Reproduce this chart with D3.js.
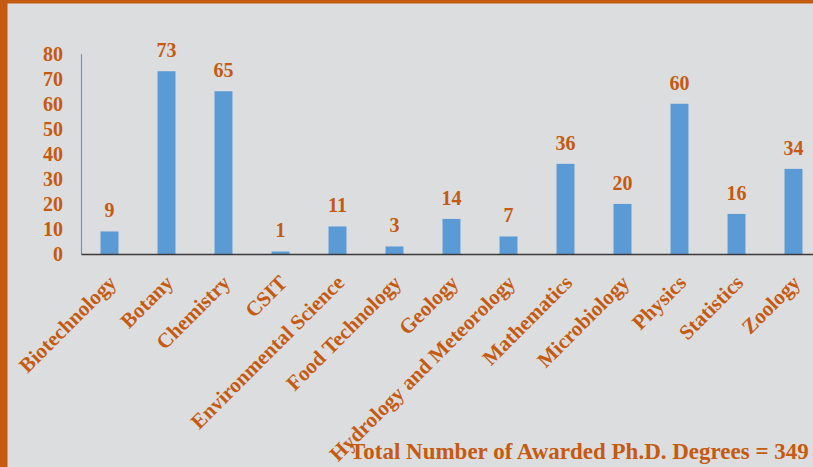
<!DOCTYPE html>
<html>
<head>
<meta charset="utf-8">
<script src="https://cdn.jsdelivr.net/npm/d3@7"></script>
<style>
  body { margin: 0; padding: 0; background: #dcdddf; }
  svg { display: block; }
</style>
</head>
<body>
<svg id="svg"></svg>
<script>
var categories = ['Biotechnology', 'Botany', 'Chemistry', 'CSIT', 'Environmental Science',
  'Food Technology', 'Geology', 'Hydrology and Meteorology', 'Mathematics',
  'Microbiology', 'Physics', 'Statistics', 'Zoology'];
var degrees = [9, 73, 65, 1, 11, 3, 14, 7, 36, 20, 60, 16, 34];
var yTicks = [0, 10, 20, 30, 40, 50, 60, 70, 80];
var totalText = 'Total Number of Awarded Ph.D. Degrees = 349';

var width = 813,
  height = 467;
var orange = '#c55a11',
  blue = '#5b9bd5';
var font = '"Liberation Serif", "Times New Roman", serif';

// plot area
var x0 = 81, x1 = 822, yTop = 53.7, yBottom = 254;

var s = d3.select('#svg')
  .attr('width', width)
  .attr('height', height)
  .style('font-family', font);

s.append('rect')
  .attr('width', width).attr('height', height)
  .attr('fill', '#dcdddf');

// frame
s.append('rect').attr('x', 0).attr('y', 0).attr('width', width).attr('height', 3.5).attr('fill', orange);
s.append('rect').attr('x', 0).attr('y', 0).attr('width', 7.5).attr('height', height).attr('fill', orange);

var scaleX = d3.scaleBand()
  .domain(categories)
  .range([x0, x1])
  .paddingInner(0.685)
  .paddingOuter(0.3425);

var scaleY = d3.scaleLinear()
  .domain([0, 80])
  .range([yBottom, yTop]);

// bars
s.selectAll('rect.bar')
  .data(categories)
  .enter()
  .append('rect')
  .attr('class', 'bar')
  .attr('fill', blue)
  .attr('x', function (d) { return scaleX(d); })
  .attr('width', scaleX.bandwidth())
  .attr('y', function (d, i) { return scaleY(degrees[i]); })
  .attr('height', function (d, i) { return yBottom - scaleY(degrees[i]); });

// value labels
s.selectAll('text.val')
  .data(categories)
  .enter()
  .append('text')
  .attr('class', 'val')
  .attr('x', function (d) { return scaleX(d) + scaleX.bandwidth() / 2; })
  .attr('y', function (d, i) { return scaleY(degrees[i]) - 14; })
  .attr('text-anchor', 'middle')
  .attr('fill', orange)
  .style('font-size', '20px')
  .style('font-weight', 'bold')
  .text(function (d, i) { return degrees[i]; });

// y axis
var axisY = d3.axisLeft(scaleY).tickValues(yTicks).tickSize(0).tickPadding(18);
var gy = s.append('g')
  .attr('transform', 'translate(' + x0 + ',0)')
  .call(axisY);
gy.select('.domain').attr('stroke', blue).attr('stroke-width', 1.2);
gy.selectAll('text')
  .attr('fill', orange)
  .style('font-family', font)
  .style('font-size', '20px')
  .style('font-weight', 'bold');

// x axis
var axisX = d3.axisBottom(scaleX).tickSize(0).tickPadding(0);
var gx = s.append('g')
  .attr('transform', 'translate(0,' + yBottom + ')')
  .call(axisX);
gx.select('.domain').attr('stroke', '#3a3a3a').attr('stroke-width', 1.6);
gx.selectAll('text')
  .attr('fill', orange)
  .attr('text-anchor', 'end')
  .attr('y', 0)
  .attr('dy', 0)
  .attr('transform', 'translate(8,30) rotate(-45)')
  .style('font-family', font)
  .style('font-size', '21px')
  .style('font-weight', 'bold');

// total
s.append('text')
  .attr('x', 350)
  .attr('y', 459)
  .attr('fill', orange)
  .style('font-size', '23px')
  .style('font-weight', 'bold')
  .text(totalText);
</script>
</body>
</html>
